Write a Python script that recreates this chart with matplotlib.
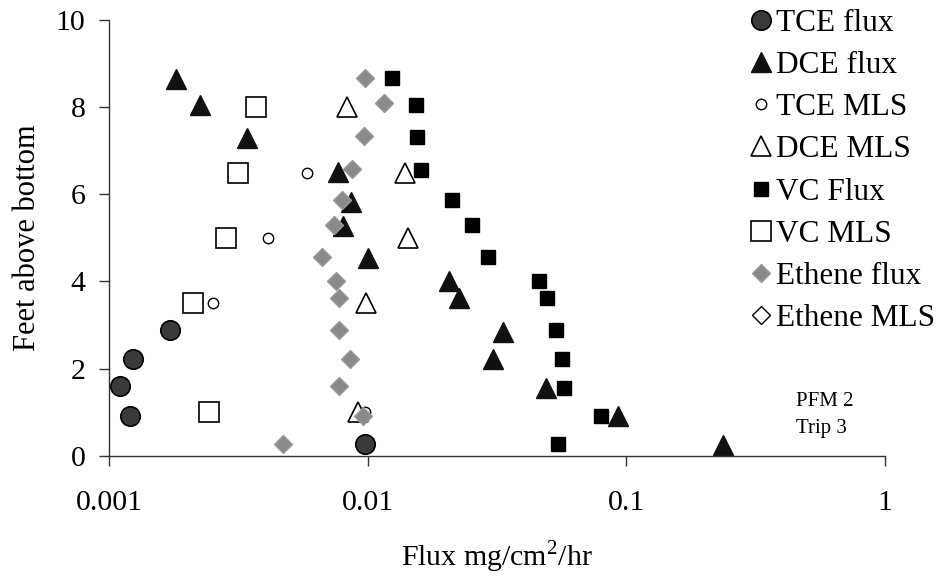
import matplotlib
matplotlib.use("Agg")
import matplotlib.pyplot as plt

plt.rcParams["font.family"] = ["Liberation Serif", "DejaVu Serif"]
plt.rcParams["mathtext.fontset"] = "custom"
plt.rcParams["mathtext.rm"] = "Liberation Serif"

# depth (ft above bottom) and flux (mg/cm2/hr)
tce_flux_x = [0.0098, 0.00121, 0.001103, 0.00124, 0.00172]
tce_flux_y = [0.26, 0.92, 1.59, 2.22, 2.89]

dce_flux_x = [0.237, 0.0925, 0.0489, 0.0306, 0.0334, 0.0225, 0.0206, 0.01006,
              0.00805, 0.0086, 0.00766, 0.00343, 0.00224, 0.00182]
dce_flux_y = [0.25, 0.90, 1.55, 2.22, 2.85, 3.62, 4.0, 4.54,
              5.27, 5.83, 6.52, 7.30, 8.04, 8.64]

tce_mls_x = [0.0098, 0.00253, 0.00412, 0.00582]
tce_mls_y = [1.0, 3.5, 5.0, 6.5]

dce_mls_x = [0.0092, 0.0099, 0.01436, 0.0139, 0.0083]
dce_mls_y = [1.0, 3.5, 5.0, 6.5, 8.0]

vc_flux_x = [0.0542, 0.0795, 0.0574, 0.0562, 0.0533, 0.0492, 0.046, 0.0292,
             0.0253, 0.0212, 0.01603, 0.01546, 0.01533, 0.01245]
vc_flux_y = [0.26, 0.91, 1.56, 2.22, 2.89, 3.63, 4.0, 4.56,
             5.29, 5.86, 6.55, 7.32, 8.06, 8.66]

vc_mls_x = [0.00243, 0.00212, 0.00284, 0.00316, 0.00369]
vc_mls_y = [1.0, 3.5, 5.0, 6.5, 8.0]

eth_flux_x = [0.00472, 0.0096, 0.00773, 0.00855, 0.00773, 0.00777, 0.00752,
              0.00664, 0.00743, 0.00798, 0.0087, 0.0097, 0.0116, 0.0098]
eth_flux_y = [0.26, 0.92, 1.59, 2.22, 2.89, 3.62, 4.02,
              4.56, 5.30, 5.86, 6.57, 7.33, 8.09, 8.67]

eth_mls_x = []
eth_mls_y = []


def main() -> None:
    fig = plt.figure(figsize=(9.39, 5.82), dpi=100)
    ax = fig.add_axes([0.116, 0.217, 0.8265, 0.7486])

    ax.plot(tce_flux_x, tce_flux_y, "o", ms=14, mfc="#3a3a3a", mec="black",
            mew=1.2, label="TCE flux")
    ax.plot(dce_flux_x, dce_flux_y, "^", ms=14.5, mfc="#111111", mec="#111111",
            label="DCE flux")
    ax.plot(tce_mls_x, tce_mls_y, "o", ms=7.5, mfc="white", mec="black",
            mew=1.0, label="TCE MLS")
    ax.plot(dce_mls_x, dce_mls_y, "^", ms=15, mfc="white", mec="black",
            mew=1.2, label="DCE MLS")
    ax.plot(vc_flux_x, vc_flux_y, "s", ms=10.5, mfc="black", mec="black",
            label="VC Flux")
    ax.plot(vc_mls_x, vc_mls_y, "s", ms=14, mfc="white", mec="black",
            mew=1.2, label="VC MLS")
    ax.plot(eth_flux_x, eth_flux_y, "D", ms=9.5, mfc="#8a8a8a", mec="#9a9a9a",
            label="Ethene flux")
    ax.plot(eth_mls_x, eth_mls_y, "D", ms=9.5, mfc="white", mec="black",
            mew=1.0, label="Ethene MLS")

    ax.set_xscale("log")
    ax.set_xlim(0.001, 1)
    ax.set_ylim(0, 10)
    ax.set_xticks([0.001, 0.01, 0.1, 1])
    ax.set_xticklabels(["0.001", "0.01", "0.1", "1"])
    ax.minorticks_off()
    ax.set_yticks([0, 2, 4, 6, 8, 10])

    for side in ("top", "right"):
        ax.spines[side].set_visible(False)
    for side in ("left", "bottom"):
        ax.spines[side].set_color("#333333")
        ax.spines[side].set_linewidth(1.0)

    ax.tick_params(axis="x", direction="out", length=7, width=1,
                   color="#333333", labelsize=21.5, pad=18)
    ax.tick_params(axis="y", direction="out", length=7, width=1,
                   color="#333333", labelsize=21.5, pad=10)

    ax.set_xlabel("Flux mg/cm$^\\mathrm{2}$/hr", fontsize=21.5, labelpad=16)
    ax.set_ylabel("Feet above bottom", fontsize=22, labelpad=10)

    fig.text(796 / 939, 1 - 402 / 582, "PFM 2", fontsize=15, va="center")
    fig.text(796 / 939, 1 - 429 / 582, "Trip 3", fontsize=15, va="center")

    fig.legend(loc="upper left", bbox_to_anchor=(738 / 939, 1.006),
               frameon=False, fontsize=22.5, handlelength=0.7,
               handletextpad=0.12, labelspacing=0.42, borderaxespad=0)

    fig.savefig("out.png", dpi=100)


if __name__ == "__main__":
    main()
